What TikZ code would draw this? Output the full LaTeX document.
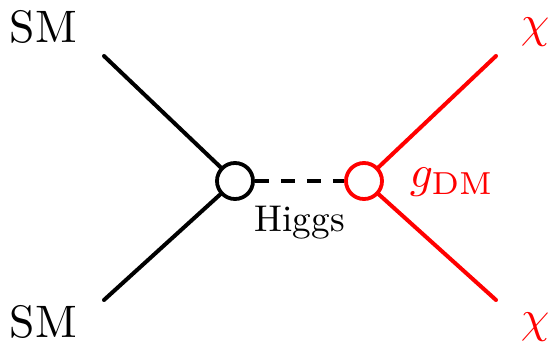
\documentclass[tikz,border=0pt]{standalone}
\begin{document}
\begin{tikzpicture}[x=1pt,y=-1pt,
  leg/.style={line width=4pt,line cap=round},
  vtx/.style={circle,draw,line width=3.8pt,minimum size=36pt,inner sep=0pt},
  big/.style={scale=4.55,anchor=base west,inner sep=0pt},
  mid/.style={scale=3.72,anchor=base west,inner sep=0pt},
  dm/.style={red}]
\useasboundingbox (0,0) rectangle (552,355);
\node[vtx] (v1) at (235,181) {};
\node[vtx,dm] (v2) at (364,181) {};
\coordinate (a) at (104,56);
\coordinate (b) at (104,300);
\coordinate (c) at (496,56);
\coordinate (d) at (496,300);
\draw[leg] (a) -- (v1);
\draw[leg] (b) -- (v1);
\draw[leg,dm] (c) -- (v2);
\draw[leg,dm] (d) -- (v2);
\draw[line width=4pt,dash pattern=on 14pt off 12pt] (v1) -- (v2);
\node[big] (sm1) at (9,43) {SM};
\node[big] (sm2) at (9,338) {SM};
\node[big,dm] (x1) at (520,38) {$\chi$};
\node[big,dm] (x2) at (520,333) {$\chi$};
\node[big,dm] (g) at (409,188) {$g_{\mathrm{DM}}$};
\node[mid] (h) at (254,232) {Higgs};
\end{tikzpicture}
\end{document}
